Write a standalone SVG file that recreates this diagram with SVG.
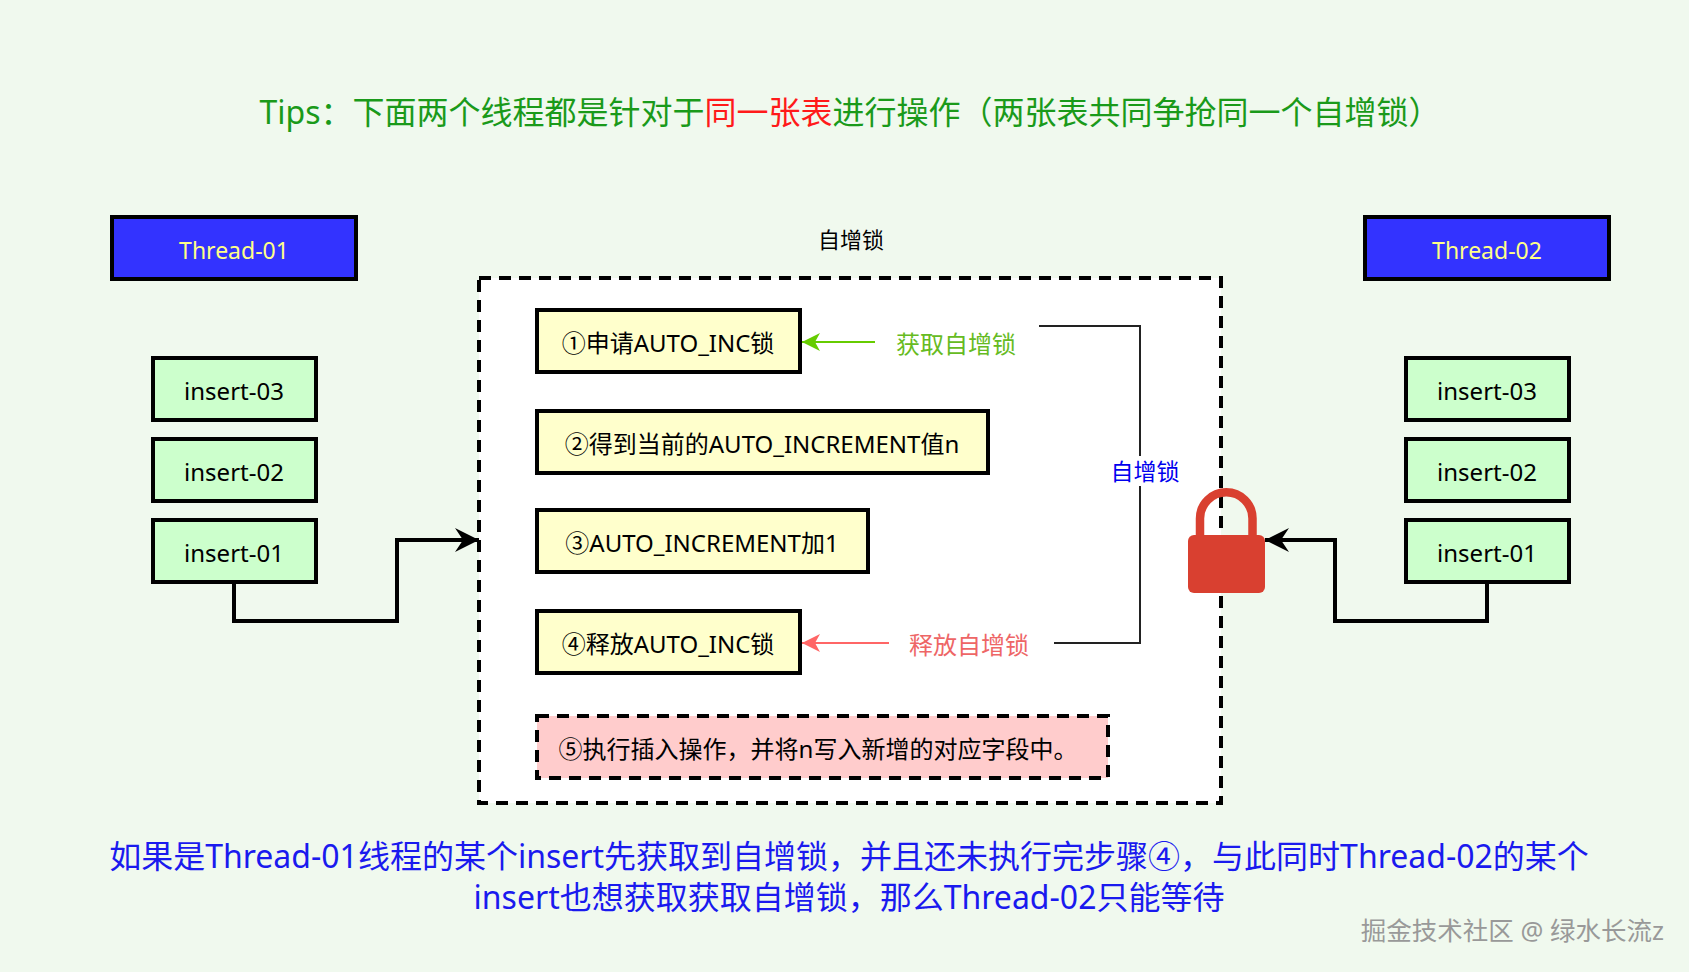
<svg xmlns="http://www.w3.org/2000/svg" width="1689" height="972" viewBox="0 0 1689 972">
<style>
  text { font-family: "Noto Sans", "Noto Sans CJK SC", sans-serif; }
  .box { stroke: #000; stroke-width: 4; }
  .thread { fill: #3333ff; }
  .ins { fill: #ccffcc; }
  .step { fill: #ffffcc; }
  .t23 { font-size: 23px; text-anchor: middle; dominant-baseline: central; }
  .t24 { font-size: 24px; text-anchor: middle; dominant-baseline: central; }
  .conn { fill: none; stroke: #000; stroke-width: 4; }
  .bottom { font-size: 32px; text-anchor: middle; fill: #1a1aee; }
</style>
<defs>
  <marker id="blk" markerUnits="userSpaceOnUse" markerWidth="26" markerHeight="26" viewBox="0 0 26 26" refX="24" refY="12" orient="auto">
    <path d="M0,0 L24,12 L0,24 L8,12 Z" fill="#000"/>
  </marker>
  <marker id="grn" markerUnits="userSpaceOnUse" markerWidth="20" markerHeight="20" viewBox="0 0 20 20" refX="18" refY="9" orient="auto">
    <path d="M0,0 L18,9 L0,18 L5,9 Z" fill="#66cc00"/>
  </marker>
  <marker id="red" markerUnits="userSpaceOnUse" markerWidth="20" markerHeight="20" viewBox="0 0 20 20" refX="18" refY="9" orient="auto">
    <path d="M0,0 L18,9 L0,18 L5,9 Z" fill="#ff6666"/>
  </marker>
</defs>
<rect x="0" y="0" width="1689" height="972" fill="#f0f9ee"/>

<g id="title">
  <text x="850" y="124" font-size="32" text-anchor="middle" fill="#1a9a1a">Tips：下面两个线程都是针对于<tspan fill="#ff1a1a">同一张表</tspan>进行操作（两张表共同争抢同一个自增锁）</text>
</g>

<g id="container">
  <rect x="479" y="278" width="742" height="525" fill="#ffffff" stroke="#000" stroke-width="4" stroke-dasharray="12 8"/>
  <text x="851" y="239" font-size="22" text-anchor="middle" dominant-baseline="central" fill="#000">自增锁</text>
</g>

<g id="thread-01">
  <rect class="box thread" x="112" y="217" width="244" height="62"/>
  <text class="t23" x="234" y="250" fill="#ffff88">Thread-01</text>
</g>
<g id="thread-02">
  <rect class="box thread" x="1365" y="217" width="244" height="62"/>
  <text class="t23" x="1487" y="250" fill="#ffff88">Thread-02</text>
</g>

<g id="left-insert-03">
  <rect class="box ins" x="153" y="358" width="163" height="62"/>
  <text class="t24" x="234" y="390">insert-03</text>
</g>
<g id="left-insert-02">
  <rect class="box ins" x="153" y="439" width="163" height="62"/>
  <text class="t24" x="234" y="471">insert-02</text>
</g>
<g id="left-insert-01">
  <rect class="box ins" x="153" y="520" width="163" height="62"/>
  <text class="t24" x="234" y="552">insert-01</text>
</g>
<g id="right-insert-03">
  <rect class="box ins" x="1406" y="358" width="163" height="62"/>
  <text class="t24" x="1487" y="390">insert-03</text>
</g>
<g id="right-insert-02">
  <rect class="box ins" x="1406" y="439" width="163" height="62"/>
  <text class="t24" x="1487" y="471">insert-02</text>
</g>
<g id="right-insert-01">
  <rect class="box ins" x="1406" y="520" width="163" height="62"/>
  <text class="t24" x="1487" y="552">insert-01</text>
</g>

<g id="step1">
  <rect class="box step" x="537" y="310" width="263" height="62"/>
  <text class="t24" x="668" y="342">①申请AUTO_INC锁</text>
</g>
<g id="step2">
  <rect class="box step" x="537" y="411" width="451" height="62"/>
  <text class="t24" x="762" y="443">②得到当前的AUTO_INCREMENT值n</text>
</g>
<g id="step3">
  <rect class="box step" x="537" y="510" width="331" height="62"/>
  <text class="t24" x="702" y="542">③AUTO_INCREMENT加1</text>
</g>
<g id="step4">
  <rect class="box step" x="537" y="611" width="263" height="62"/>
  <text class="t24" x="668" y="643">④释放AUTO_INC锁</text>
</g>
<g id="step5">
  <rect x="537" y="716" width="571" height="62" fill="#ffcccc" stroke="#000" stroke-width="4" stroke-dasharray="12 8"/>
  <text class="t24" x="818" y="748">⑤执行插入操作，并将n写入新增的对应字段中。</text>
</g>

<g id="connectors">
  <path class="conn" d="M234,582 V621 H397 V540 H479" marker-end="url(#blk)"/>
  <path class="conn" d="M1487,582 V621 H1335 V540 H1265" marker-end="url(#blk)"/>
  <line x1="875" y1="342" x2="802" y2="342" stroke="#66cc00" stroke-width="2" marker-end="url(#grn)"/>
  <line x1="889" y1="643" x2="802" y2="643" stroke="#ff6666" stroke-width="2" marker-end="url(#red)"/>
  <path d="M1039,326 H1140 V643 H1054" fill="none" stroke="#222" stroke-width="2"/>
  <text x="956" y="343" font-size="24" text-anchor="middle" dominant-baseline="central" fill="#66bb22">获取自增锁</text>
  <text x="969" y="644" font-size="24" text-anchor="middle" dominant-baseline="central" fill="#ee6666">释放自增锁</text>
  <rect x="1108" y="456" width="74" height="30" fill="#ffffff"/>
  <text x="1145" y="471" font-size="23" text-anchor="middle" dominant-baseline="central" fill="#0000ee">自增锁</text>
</g>

<g id="lock">
  <path d="M1200,535 V518.5 A26.25,26.25 0 0 1 1252.5,518.5 V535" fill="none" stroke="#d94030" stroke-width="8.5"/>
  <rect x="1188" y="535" width="77" height="58" rx="6" fill="#d94030"/>
</g>

<g id="bottom-text">
  <text class="bottom" x="849" y="868">如果是Thread-01线程的某个insert先获取到自增锁，并且还未执行完步骤④，与此同时Thread-02的某个</text>
  <text class="bottom" x="849" y="909">insert也想获取获取自增锁，那么Thread-02只能等待</text>
</g>

<g id="watermark">
  <text x="1664" y="940" font-size="25.5" text-anchor="end" fill="#999999">掘金技术社区 @ 绿水长流z</text>
</g>
</svg>
